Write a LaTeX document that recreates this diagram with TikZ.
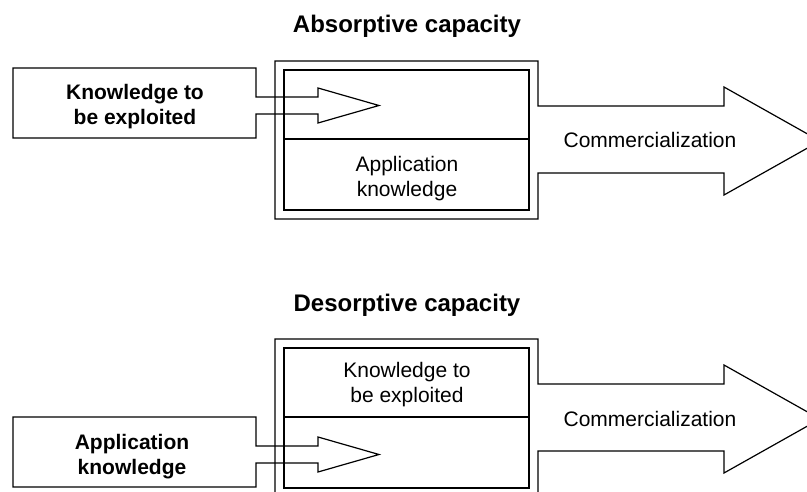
\documentclass[tikz,border=0pt]{standalone}
\usepackage{fontspec}
\setmainfont{Liberation Sans}

\tikzset{
  blockline/.style={line width=1.2pt, line join=miter},
  txt/.style={align=center, inner sep=0pt, font=\fontsize{21}{25}\selectfont},
  btxt/.style={txt, font=\fontsize{21}{25}\selectfont\bfseries},
  heading/.style={inner sep=0pt, anchor=base, font=\fontsize{24}{28}\selectfont\bfseries},
}

\begin{document}
\begin{tikzpicture}[x=1pt, y=-1pt]
\useasboundingbox (0,0) rectangle (807,492);
% two panels: \dy moves the panel, \din the input box
\foreach \dy/\din in {0/0, 278/349}{
\draw[blockline] (275,61+\dy) -- (538,61+\dy) -- (538,106+\dy) -- (724,106+\dy) -- (724,87+\dy) -- (820,141+\dy) -- (724,195+\dy) -- (724,173+\dy) -- (538,173+\dy) -- (538,219+\dy) -- (275,219+\dy) -- cycle;
\draw[blockline] (284,70+\dy) rectangle (529,210+\dy);
\draw[blockline] (284,139+\dy) -- (529,139+\dy);
\draw[blockline] (13,68+\din) -- (256,68+\din) -- (256,97+\din) -- (318,97+\din) -- (318,88+\din) -- (379,105.5+\din) -- (318,123+\din) -- (318,114+\din) -- (256,114+\din) -- (256,138+\din) -- (13,138+\din) -- cycle;
}
% absorptive
\node[heading] (abstitle) at (407,33) {Absorptive capacity};
\node[btxt] (absin) at (135,107) {Knowledge to\\be exploited};
\node[txt] (absbase) at (407,179) {Application\\knowledge};
\node[txt, anchor=base] (abscomm) at (650,148) {Commercialization};
% desorptive
\node[heading] (destitle) at (407,312) {Desorptive capacity};
\node[txt] (desbase) at (407,385) {Knowledge to\\be exploited};
\node[btxt] (desin) at (132,457) {Application\\knowledge};
\node[txt, anchor=base] (descomm) at (650,426) {Commercialization};
\end{tikzpicture}
\end{document}
